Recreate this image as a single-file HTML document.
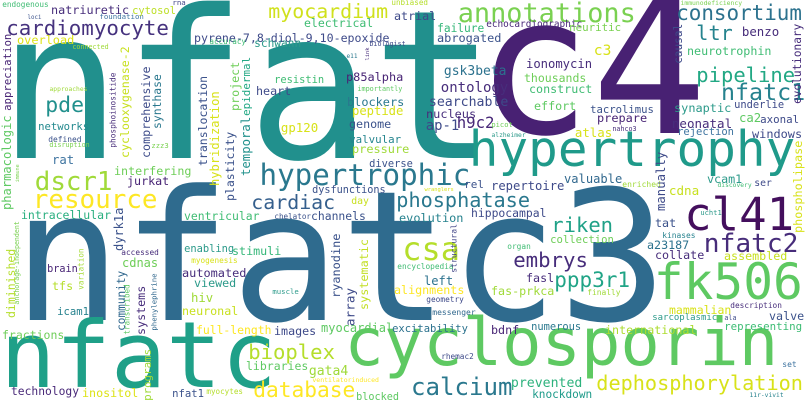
<!DOCTYPE html>
<html><head><meta charset="utf-8"><title>Word cloud</title>
<style>
html,body{margin:0;padding:0;background:#fff;}
svg{display:block;}
text{font-family:"DejaVu Sans Mono","Liberation Mono",monospace;}
</style></head>
<body>
<svg id="cloud" width="808" height="404" viewBox="0 0 808 404" xmlns="http://www.w3.org/2000/svg">
<rect width="808" height="404" fill="#ffffff"/>
</svg>
<script>
// horizontal words: text, ink-left x, baseline y, ink width, color
const hWords = [
["nfat",15,158,462,"#21908d"],
["c4",492,133,198,"#482173"],
["nfatc3",28,320,622,"#2f6b8e"],
["nfatc",8,387,260,"#1fa088"],
["cyclosporin",350,365,421,"#5ec962"],
["hypertrophy",473,166,317,"#1f9a8a"],
["fk506",658,299,140,"#5ec962"],
["cl41",688,230,102,"#440f5d"],
["endogenous",3,7,45,"#3fbc73"],
["loci",28,19,13,"#3b528b"],
["foundation",100,19,43,"#3e74a0"],
["rna",173,5,12,"#414487"],
["natriuretic",52,14,76,"#472d7b"],
["cytosol",133,14,42,"#bddf26"],
["cardiomyocyte",8,35,159,"#46327e"],
["overload",18,44,55,"#dde318"],
["connected",73,49,35,"#a0da39"],
["pyrene-7,8-diol-9,10-epoxide",195,42,193,"#3e4a89"],
["accuracy",210,44,35,"#3fbc73"],
["schwann",255,47,45,"#2c9a8a"],
["pde",47,112,35,"#21908d"],
["approaches",50,91,37,"#a0da39"],
["networks",39,130,49,"#23898e"],
["defined",49,142,32,"#3b528b"],
["disruption",50,147,39,"#7ad151"],
["zzz3",152,148,16,"#7ad151"],
["rat",53,164,20,"#3e74a0"],
["dscr1",37,190,73,"#a0da39"],
["resource",35,208,120,"#fde725"],
["interfering",115,175,75,"#6ece58"],
["jurkat",128,185,40,"#482475"],
["heart",257,95,33,"#3e4a89"],
["hypertrophic",262,185,205,"#2a788e"],
["cardiac",253,209,80,"#355f8d"],
["myocardium",270,18,116,"#d0e11c"],
["unbiased",392,5,35,"#b5de2b"],
["annotations",460,22,173,"#7ad151"],
["electrical",305,27,67,"#3fbc73"],
["atrial",395,20,40,"#3e4a89"],
["failure",438,32,45,"#35b779"],
["echocardiographic",487,27,94,"#482878"],
["abrogated",438,42,62,"#3b528b"],
["biologist",370,46,35,"#3e4a89"],
["e11",347,58,10,"#2a788e"],
["resistin",275,83,48,"#3fbc73"],
["importantly",358,91,44,"#5ec962"],
["p85alpha",347,81,55,"#482475"],
["gsk3beta",445,75,60,"#2c728e"],
["ontology",442,92,65,"#472d7b"],
["searchable",430,106,77,"#3e4a89"],
["blockers",348,106,55,"#2a788e"],
["peptide",353,115,49,"#d8e219"],
["nucleus",427,118,48,"#472d7b"],
["genome",350,128,40,"#3b528b"],
["ap-1",427,130,31,"#3e4a89"],
["h9c2",458,128,35,"#482878"],
["gp120",282,132,35,"#d8e219"],
["picot",492,127,20,"#6ece58"],
["alzheimer",492,137,33,"#2c9a8a"],
["valvular",350,143,50,"#25858e"],
["pressure",353,153,55,"#a0da39"],
["diverse",370,167,42,"#3b528b"],
["rel",465,188,18,"#3b528b"],
["repertoire",492,190,71,"#3e4a89"],
["dysfunctions",313,193,72,"#3b528b"],
["day",352,204,16,"#c8e020"],
["wranglers",425,191,28,"#d8e219"],
["phosphatase",398,207,130,"#2a788e"],
["immunodeficiency",681,5,60,"#7ad151"],
["consortium",678,20,122,"#2c728e"],
["neuritic",570,31,50,"#7ad151"],
["ltr",698,40,33,"#25838e"],
["benzo",743,36,35,"#472d7b"],
["c3",595,55,15,"#d8e219"],
["neurotrophin",688,55,82,"#3fbc73"],
["ionomycin",527,68,64,"#472d7b"],
["thousands",525,82,60,"#6ece58"],
["construct",530,93,61,"#3fbc73"],
["effort",535,110,40,"#5ec962"],
["pipeline",698,82,95,"#22a884"],
["nfatc1",723,100,80,"#26828e"],
["tacrolimus",591,113,62,"#3b528b"],
["synaptic",675,112,55,"#2c9a8a"],
["underlie",735,108,48,"#3e4a89"],
["prepare",598,122,48,"#482475"],
["neonatal",673,128,58,"#472d7b"],
["ca2",740,122,20,"#5ec962"],
["axonal",761,123,37,"#3e4a89"],
["atlas",576,137,35,"#d8e219"],
["nahco3",613,131,23,"#472d7b"],
["rejection",678,135,55,"#3e74a0"],
["windows",753,138,48,"#3e4a89"],
["valuable",565,183,56,"#31688e"],
["enriched",623,187,37,"#a0da39"],
["cdna",670,195,28,"#c8e020"],
["vcam1",708,183,33,"#2c9a8a"],
["discovery",718,187,33,"#3fbc73"],
["ser",755,186,16,"#3e4a89"],
["intracellular",22,219,88,"#29af7f"],
["ventricular",185,220,73,"#3fbc73"],
["accessed",122,255,36,"#472d7b"],
["enabling",185,252,48,"#2c9a8a"],
["stimuli",233,255,47,"#35b779"],
["myogenesis",192,263,45,"#d8e219"],
["brain",48,272,29,"#482475"],
["cdnas",123,267,34,"#6ece58"],
["automated",183,277,62,"#472d7b"],
["tfs",53,290,19,"#b5de2b"],
["viewed",195,287,40,"#2c9a8a"],
["hiv",192,302,20,"#a0da39"],
["icam1",58,315,30,"#26828e"],
["neuronal",183,315,54,"#c8e020"],
["fractions",3,339,60,"#6ece58"],
["full-length",197,334,73,"#fde725"],
["bioplex",250,359,83,"#b5de2b"],
["libraries",247,370,60,"#5ec962"],
["database",255,397,98,"#fde725"],
["technology",12,395,66,"#482878"],
["inositol",83,397,54,"#dde318"],
["nfat1",173,397,30,"#3b528b"],
["myocytes",207,394,35,"#b5de2b"],
["chelator",275,219,35,"#3b528b"],
["channels",312,220,53,"#3b528b"],
["evolution",400,222,62,"#26828e"],
["hippocampal",472,217,73,"#3e4a89"],
["csa",405,260,52,"#b5de2b"],
["embrys",515,267,71,"#472d7b"],
["organ",508,249,22,"#3fbc73"],
["encyclopedia",398,269,55,"#3fbc73"],
["left",425,285,27,"#2c728e"],
["fasl",527,282,26,"#472d7b"],
["fas-prkca",492,295,61,"#a0da39"],
["alignments",395,294,68,"#fde725"],
["muscle",273,294,25,"#2c9a8a"],
["geometry",427,302,36,"#3e4a89"],
["messenger",433,315,42,"#31688e"],
["images",275,335,40,"#3e4a89"],
["myocardial",322,332,70,"#5ec962"],
["excitability",393,332,74,"#2c728e"],
["bdnf",492,334,26,"#482475"],
["numerous",532,330,48,"#2a788e"],
["gata4",310,375,37,"#a0da39"],
["ventilatorinduced",313,382,65,"#fde725"],
["rhemac2",442,359,31,"#3e4a89"],
["calcium",413,395,97,"#2a788e"],
["blocked",357,400,41,"#5ec962"],
["prevented",512,387,69,"#2db27d"],
["knockdown",533,398,58,"#1e9b8a"],
["riken",553,232,58,"#1fa187"],
["collection",551,243,62,"#6ece58"],
["tat",656,227,19,"#3b528b"],
["ucht1",701,215,20,"#2c9a8a"],
["kinases",663,238,32,"#26828e"],
["a23187",648,249,40,"#2c728e"],
["collate",656,259,47,"#472d7b"],
["assembled",725,260,61,"#c8e020"],
["nfatc2",706,252,90,"#472c7a"],
["ppp3r1",556,287,72,"#20a486"],
["finally",588,295,32,"#a0da39"],
["mammalian",670,314,60,"#d8e219"],
["description",731,308,50,"#472d7b"],
["valve",770,320,33,"#3b528b"],
["sarcoplasmic",653,320,63,"#2c9a8a"],
["ala",725,320,11,"#3e4a89"],
["international",606,334,89,"#addc30"],
["representing",725,330,76,"#3dbc74"],
["dephosphorylation",598,390,203,"#d8e219"],
["set",783,367,13,"#3e74a0"],
["11r-vivit",750,397,33,"#26828e"]
];
// vertical words (read bottom-to-top): text, baseline x, ink-bottom y, ink length, color
const vWords = [
["pharmacologic",13,209,92,"#5ec962"],
["appreciation",13,110,75,"#482475"],
["immune",20,182,17,"#7ad151"],
["cyclooxygenase-2",131,157,109,"#c8e020"],
["comprehensive",152,157,89,"#3e4c8a"],
["synthase",163,128,53,"#2a788e"],
["phosphoinositide",117,147,74,"#472c7a"],
["translocation",209,165,88,"#3b528b"],
["hybridization",221,185,92,"#d8e219"],
["project",241,110,47,"#6ece58"],
["temporal",252,175,57,"#21918c"],
["epidermal",252,115,57,"#22a884"],
["plasticity",236,200,67,"#3b528b"],
["link",370,60,12,"#472d7b"],
["causal",684,63,38,"#3e4a89"],
["evolutionary",803,103,78,"#472d7b"],
["phospholipase",804,232,90,"#d8e219"],
["manually",667,210,57,"#3e4a89"],
["anchorage-independent",20,304,82,"#7ad151"],
["diminished",17,317,67,"#b5de2b"],
["variation",85,289,40,"#a5db36"],
["dyrk1a",125,250,41,"#3b528b"],
["community",127,330,58,"#31688e"],
["transcribed",131,334,49,"#5ec962"],
["systems",147,334,47,"#472d7b"],
["phenylephrine",158,330,56,"#31688e"],
["programs",153,400,50,"#a0da39"],
["ryanodine",342,297,62,"#3b528b"],
["systematic",370,309,69,"#c2df23"],
["structural",458,272,47,"#414487"],
["array",357,325,36,"#3e4a89"]
];
const NS = "http://www.w3.org/2000/svg";
const svg = document.getElementById("cloud");
function sizeFor(word, w) {
  const n = word.length;
  return w / (0.6 * n - (n > 1 ? 0.17 : 0.1));
}
function slug(s){return s.toLowerCase().replace(/[^a-z0-9]+/g,'-').replace(/^-|-$/g,'');}
hWords.forEach(function (d) {
  const f = sizeFor(d[0], d[3]);
  const t = document.createElementNS(NS, "text");
  t.setAttribute("x", (d[1] - 0.085 * f).toFixed(1));
  t.setAttribute("y", d[2]);
  t.setAttribute("font-size", f.toFixed(1));
  t.setAttribute("fill", d[4]);
  t.textContent = d[0];
  
  
  svg.appendChild(t);
});
vWords.forEach(function (d) {
  const f = sizeFor(d[0], d[3]);
  const t = document.createElementNS(NS, "text");
  t.setAttribute("transform", "translate(" + (d[1] - 0.18 * f).toFixed(1) + "," + d[2] + ") rotate(-90)");
  t.setAttribute("x", (-0.085 * f).toFixed(1));
  t.setAttribute("y", 0);
  t.setAttribute("font-size", f.toFixed(1));
  t.setAttribute("fill", d[4]);
  t.textContent = d[0];
  
  
  svg.appendChild(t);
});
</script>
</body></html>
